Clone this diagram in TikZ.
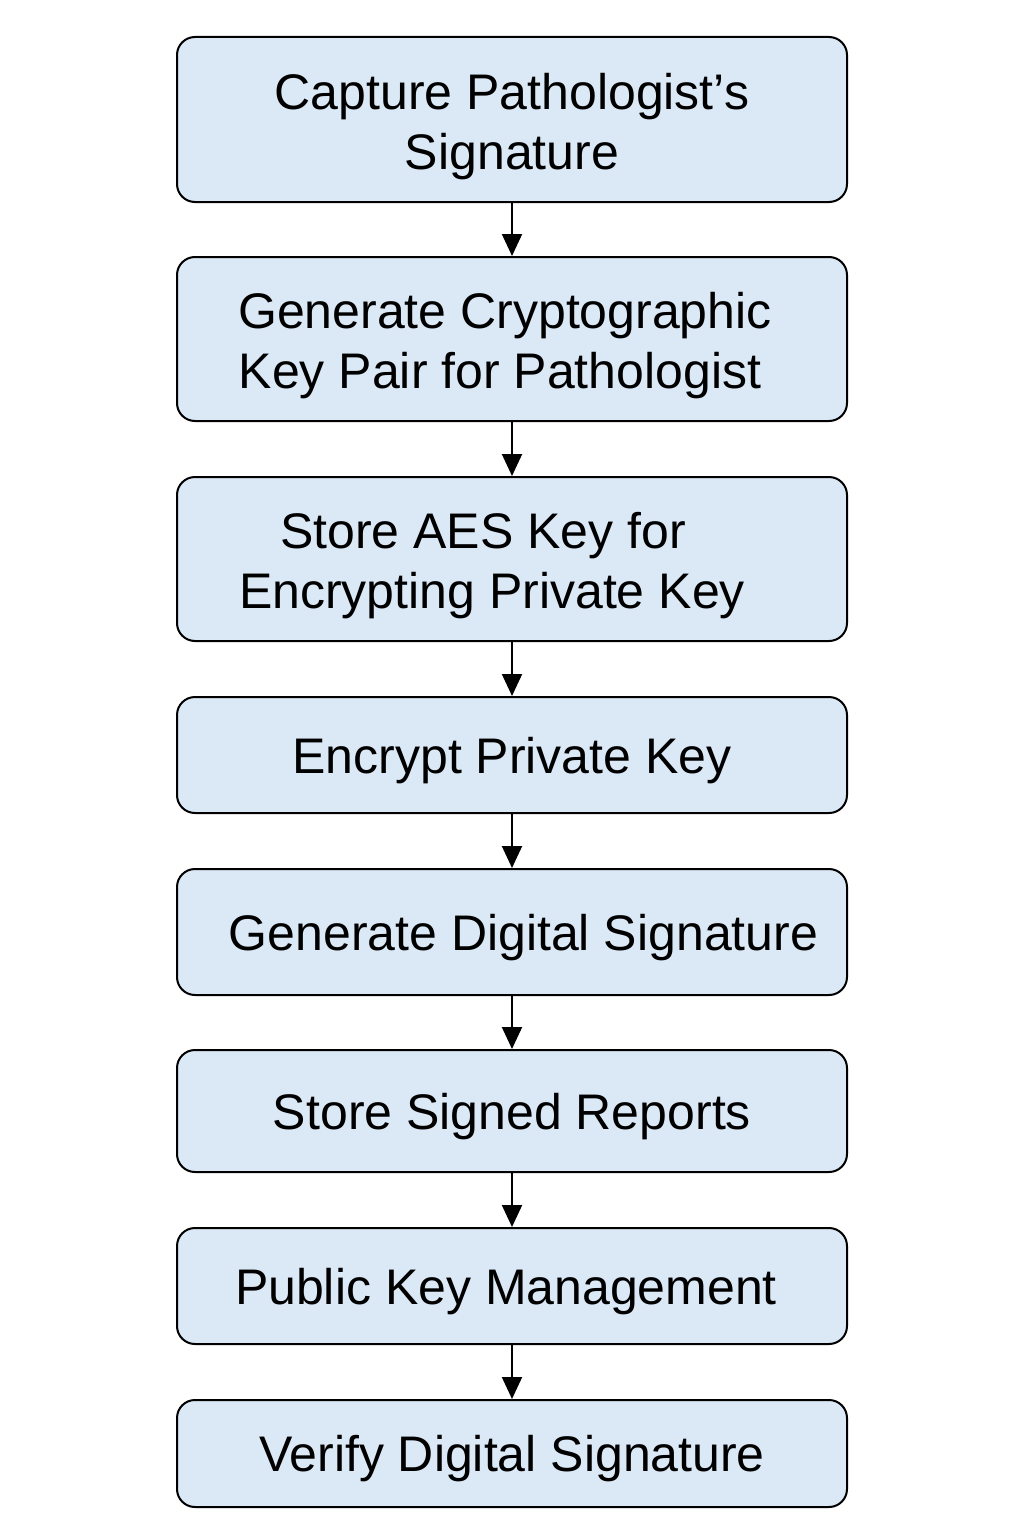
\documentclass[tikz,border=0pt]{standalone}
\usepackage{fontspec}
\setmainfont{Liberation Sans}
\usetikzlibrary{arrows.meta}
\usetikzlibrary{positioning}
\definecolor{stepblue}{RGB}{219,232,246}

\begin{document}
\begin{tikzpicture}[
		x=0.5pt,
		y=-0.5pt,
		line width=1pt
		]
		\useasboundingbox (0,0) rectangle (1024,1536);
		\tikzstyle{stepbox}=[
			draw=black,
			fill=stepblue,
			rounded corners=9pt,
			minimum width=335pt,
			inner sep=0pt,
			align=center,
			font=\fontsize{25}{30}\selectfont
		]
		\tikzstyle{one line}=[
			stepbox,
			text depth=0pt
		]
		\tikzstyle{two lines}=[
			stepbox,
			text height=55pt
		]
		\tikzstyle{flow}=[
			-{Triangle[width=10pt,length=11pt]}
		]
		% Draw the steps from top to bottom.
			\node[two lines, minimum height=82.5pt] (S-1) at (512,119.5) {Capture Pathologist’s\\Signature};
			\node[two lines, minimum height=82pt] (S-2) at (512,339) {\hspace*{-7pt}Generate Cryptographic\\\hspace*{-12pt}Key Pair for Pathologist};
			\node[two lines, minimum height=82pt] (S-3) at (512,559) {\hspace*{-29pt}Store AES Key for\\\hspace*{-20pt}Encrypting Private Key};
			\node[one line, minimum height=58pt] (S-4) at (512,755) {Encrypt Private Key};
			\node[one line, minimum height=63pt] (S-5) at (512,932) {\hspace*{11.5pt}Generate Digital Signature};
			\node[one line, minimum height=61pt] (S-6) at (512,1111) {Store Signed Reports};
			\node[one line, minimum height=58pt] (S-7) at (512,1286) {\hspace*{-6pt}Public Key Management};
			\node[one line, minimum height=53.5pt] (S-8) at (512,1453.5) {Verify Digital Signature};
		% Connect each step with the next one.
			\foreach \source/\target in {1/2, 2/3, 3/4, 4/5, 5/6, 6/7, 7/8}
				\draw[flow] (S-\source) -- (S-\target);
	\end{tikzpicture}
\end{document}
